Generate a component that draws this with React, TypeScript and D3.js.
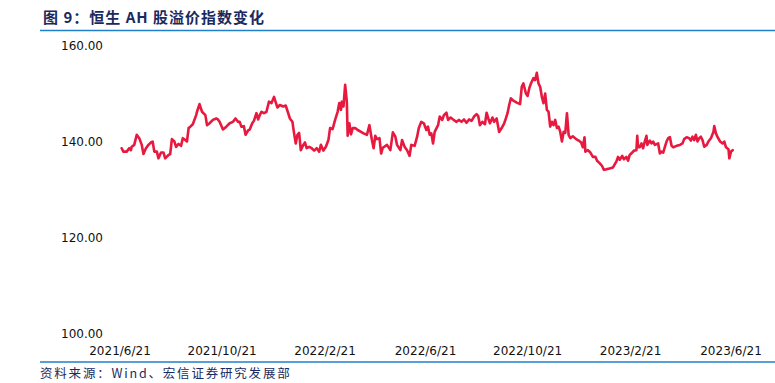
import React from "react";
import * as d3 from "d3";

const startDate = "2021-06-21";
// calendar days since 2021-06-21
const days = [2,4,8,11,13,14,17,20,23,26,28,31,34,37,39,41,44,46,49,52,54,58,60,62,65,67,70,73,75,78,80,82,84,87,91,92,95,98,102,104,107,111,115,117,
119,123,127,131,135,138,141,143,145,148,150,153,155,158,160,163,165,167,169,172,175,178,181,184,188,191,195,198,203,206,208,210,212,214,216,219,221,223,226,229,232,235,238,240,243,
246,249,251,254,257,260,262,264,265,267,269,271,272,274,276,278,281,284,288,291,295,298,301,303,305,307,310,312,314,319,323,326,329,331,335,337,340,343,346,348,352,355,357,360,363,366,
368,370,372,374,376,380,382,385,387,390,392,395,398,402,405,408,411,414,417,420,423,426,428,430,433,436,438,440,442,445,447,450,453,456,459,461,463,465,467,470,474,478,480,482,485,487,489,491,494,
496,498,500,502,504,506,508,510,512,514,516,518,520,522,524,526,528,530,532,534,536,538,541,545,548,551,553,555,556,559,562,565,568,570,573,576,578,581,585,589,593,595,597,600,602,605,607,609,612,614,617,618,619,621,
623,625,627,629,630,633,635,637,639,643,645,647,649,651,653,655,657,659,661,665,669,672,674,677,680,682,684,686,688,690,692,694,696,698,701,703,706,709,710,712,714,717,720,722,724,727,728,730,732];

const values = [138.7,138.0,138.0,138.7,138.3,139.0,139.4,141.5,140.8,139.4,137.5,138.7,139.4,139.9,140.1,138.0,138.0,136.6,137.8,137.8,136.6,137.3,137.5,140.6,140.1,139.0,139.6,139.2,140.8,140.4,140.1,142.9,143.2,143.7,145.6,146.3,147.9,146.3,145.6,143.5,143.9,144.6,144.9,144.7,
144.2,142.6,143.2,143.9,144.2,144.9,144.2,144.2,143.2,143.3,141.5,142.4,142.6,143.9,144.4,146.0,144.7,145.6,146.3,146.0,146.3,148.4,148.1,149.4,147.2,147.7,147.4,147.6,144.9,144.2,141.8,139.7,141.5,141.9,138.3,139.4,139.9,138.7,139.0,138.7,138.2,138.7,138.0,139.4,138.2,
139.0,140.4,142.9,142.7,144.6,146.3,148.1,146.7,148.4,147.4,151.9,148.4,141.3,143.9,141.6,142.9,142.9,142.5,142.1,141.8,141.5,143.5,140.4,138.7,141.3,140.6,140.8,137.6,138.8,139.4,138.3,142.0,141.1,139.4,138.3,140.4,139.0,138.3,137.1,139.4,139.2,141.1,142.9,144.2,143.9,142.5,
143.2,141.5,141.8,139.7,142.1,143.5,145.3,144.6,145.6,146.1,144.6,145.1,144.7,144.2,144.6,144.2,144.7,144.0,144.7,144.4,145.3,145.8,145.4,143.5,144.2,143.7,146.1,144.9,143.9,145.1,144.2,144.9,142.1,142.9,143.9,144.9,146.0,147.7,149.1,148.6,148.2,147.9,151.5,152.2,150.1,149.6,151.2,152.2,153.3,
152.9,154.4,152.2,151.5,149.4,148.1,150.1,146.7,146.3,143.2,144.2,143.5,144.6,142.9,143.2,142.1,140.1,142.1,141.9,146.0,141.5,140.8,141.2,140.6,140.3,139.9,138.9,141.0,138.0,138.3,137.8,136.9,136.9,136.1,135.6,135.0,134.2,134.3,134.5,134.7,135.9,136.9,136.3,137.1,136.4,136.9,136.1,137.3,137.8,138.2,138.3,141.3,138.9,138.9,
139.7,138.7,140.1,141.3,139.4,140.3,139.7,140.1,139.4,139.7,137.6,138.0,137.8,139.0,140.1,140.8,141.0,139.2,138.9,139.2,139.4,139.7,140.6,141.0,140.8,140.3,141.1,140.4,141.5,140.1,140.8,141.1,140.4,139.0,139.4,140.1,140.8,142.1,143.3,141.8,141.0,140.1,139.7,140.1,138.9,138.5,136.6,138.0,138.3];

const yTicks = [100, 120, 140, 160];
const xTickLabels = ["2021/6/21", "2021/10/21", "2022/2/21", "2022/6/21", "2022/10/21", "2023/2/21", "2023/6/21"];
const title = "图 9：恒生 AH 股溢价指数变化";
const source = "资料来源：Wind、宏信证券研究发展部";

const W = 775;
const H = 383;

export default function App() {
  const parse = d3.timeParse("%Y-%m-%d");
  const start = parse(startDate) as Date;
  const data = days.map((d, i) => ({ date: d3.timeDay.offset(start, d), value: values[i] }));
  const xTickDates = xTickLabels.map((s) => d3.timeParse("%Y/%m/%d")(s) as Date);

  const x = d3.scaleTime().domain([xTickDates[0], xTickDates[xTickDates.length - 1]]).range([120, 731]);
  const y = d3.scaleLinear().domain([100, 160]).range([334, 46]);

  const line = d3
    .line<{ date: Date; value: number }>()
    .x((d) => x(d.date))
    .y((d) => y(d.value))
    .curve(d3.curveLinear);

  const navy = "#1b2a5e";
  return (
    <svg
      width={W}
      height={H}
      style={{ position: "absolute", left: 0, top: 0, background: "#fff" }}
    >
      <text
        x={43}
        y={23}
        fontFamily="'Noto Sans CJK SC', sans-serif"
        fontWeight="bold"
        fontSize={15}
        letterSpacing={1}
        fill={navy}
        style={{ whiteSpace: "pre" }}
      >
        {title}
      </text>
      <line x1={40} x2={W} y1={30.5} y2={30.5} stroke="#1f7fc8" strokeWidth={1.5} />

      {yTicks.map((t) => (
        <text
          key={t}
          x={103}
          y={y(t)}
          dy="0.35em"
          textAnchor="end"
          fontFamily="'DejaVu Sans', sans-serif"
          fontSize={12}
          fill="#111"
        >
          {d3.format(".2f")(t)}
        </text>
      ))}

      {xTickDates.map((d, i) => (
        <text
          key={i}
          x={x(d)}
          y={351}
          dy="0.35em"
          textAnchor="middle"
          fontFamily="'DejaVu Sans', sans-serif"
          fontSize={12}
          fill="#111"
        >
          {xTickLabels[i]}
        </text>
      ))}

      <path d={line(data) || ""} fill="none" stroke="#e8193f" strokeWidth={2.6} strokeLinejoin="round" strokeLinecap="round" />

      <line x1={40} x2={W} y1={362} y2={362} stroke="#1f7fc8" strokeWidth={1.5} />
      <text
        x={40}
        y={378}
        fontFamily="'Noto Sans CJK SC', sans-serif"
        fontSize={12.5}
        letterSpacing={1.8}
        fill={navy}
      >
        {source}
      </text>
    </svg>
  );
}
